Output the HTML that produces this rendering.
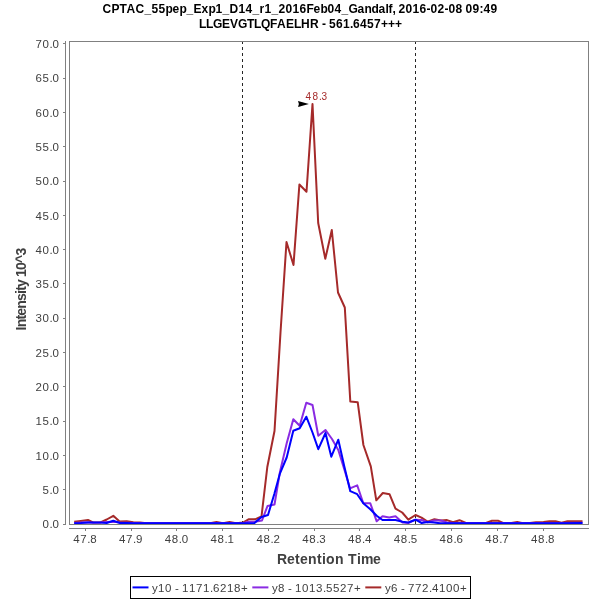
<!DOCTYPE html>
<html><head><meta charset="utf-8"><title>Chromatogram</title>
<style>html,body{margin:0;padding:0;background:#fff;}body{width:600px;height:600px;position:relative;overflow:hidden;font-family:"Liberation Sans",sans-serif;}</style>
</head><body>
<svg width="600" height="600" viewBox="0 0 600 600" style="position:absolute;left:0;top:0;will-change:transform">
<rect x="0" y="0" width="600" height="600" fill="#fff"/>
<g shape-rendering="crispEdges" stroke="#262626" stroke-width="1" stroke-dasharray="3,3">
<line x1="242.5" y1="41" x2="242.5" y2="524"/>
<line x1="415.5" y1="41" x2="415.5" y2="524"/>
</g>
<g fill="none" stroke-width="2" stroke-linejoin="round" stroke-linecap="butt">
<polyline stroke="#a52a2a" points="74.2,521.8 80.8,521.0 88.0,520.0 93.5,522.6 100.0,522.6 106.7,519.5 113.3,515.8 119.6,521.5 126.7,521.2 133.3,522.2 140.0,522.6 146.5,523.2 153.0,523.2 159.5,523.2 166.0,523.2 172.5,523.2 179.0,523.2 185.5,523.2 192.0,523.2 198.5,523.2 205.0,523.2 210.0,523.2 216.5,522.0 223.0,523.2 229.5,522.0 236.0,523.2 243.0,522.6 248.5,519.3 255.0,519.3 261.5,516.5 267.3,467.0 274.5,431.0 280.5,332.5 286.5,242.0 293.5,265.0 299.4,184.5 306.5,191.8 312.5,104.0 318.2,223.0 325.3,258.8 331.8,230.0 338.0,292.5 344.8,307.5 350.3,401.5 357.7,402.2 363.4,445.0 370.8,466.3 376.3,500.3 382.8,493.0 389.6,494.3 395.5,508.7 402.2,512.5 408.3,519.7 415.5,515.0 421.5,517.6 427.5,521.6 434.4,519.3 441.0,520.4 447.0,520.1 453.0,522.3 459.5,520.2 465.9,522.9 472.0,523.2 479.0,523.2 486.0,523.0 492.0,520.7 498.0,520.7 503.0,523.0 510.0,523.2 517.2,522.0 523.0,523.2 530.0,523.0 536.0,522.2 543.5,522.0 549.5,521.2 555.5,521.2 561.5,522.8 567.5,521.3 575.0,521.3 582.5,521.3"/>
<polyline stroke="#8a2be2" points="74.2,523.0 80.8,522.5 88.0,522.3 92.5,522.8 100.0,522.5 106.7,522.0 113.3,521.8 120.0,522.6 126.7,522.8 133.3,523.0 140.0,523.0 160.0,523.0 200.0,523.0 243.0,523.2 248.5,521.8 255.0,521.8 262.0,520.5 267.5,506.0 274.5,504.5 280.0,471.7 286.7,443.3 293.3,419.2 299.7,425.8 306.3,402.8 312.5,405.0 318.3,435.8 325.5,430.0 332.0,439.0 338.3,450.0 344.5,470.0 350.0,488.3 357.2,485.3 363.3,503.3 370.3,503.3 376.7,521.3 382.5,516.3 389.2,517.5 395.5,516.3 402.5,522.5 408.3,523.0 415.5,519.7 421.7,520.0 427.5,522.3 434.0,520.5 441.0,520.5 447.0,522.5 453.0,523.0 480.0,523.0 520.0,523.0 560.0,523.0 582.5,522.8"/>
<polyline stroke="#0000ff" points="74.2,523.2 80.8,523.0 88.0,522.6 92.5,522.6 100.0,522.6 106.7,523.0 113.3,520.8 120.0,523.0 126.7,523.0 133.3,523.2 140.0,523.2 180.0,523.2 220.0,523.2 248.0,523.2 254.5,523.0 261.5,517.0 268.0,515.0 274.3,494.0 280.0,473.3 286.7,457.5 293.3,430.8 299.7,428.3 306.3,416.7 312.5,432.5 318.3,449.2 325.5,433.0 331.3,456.7 338.3,439.7 344.2,466.0 350.3,491.2 357.2,494.2 363.3,503.3 370.3,509.2 376.7,515.8 382.5,520.0 389.2,520.0 395.5,520.0 402.5,521.7 408.3,522.5 415.5,519.7 421.7,523.0 427.5,522.0 434.0,522.5 440.0,523.2 480.0,523.2 520.0,523.2 560.0,523.2 582.5,523.0"/>
</g>
<g shape-rendering="crispEdges" stroke="#808080" stroke-width="1" fill="none">
<rect x="69.5" y="41.5" width="519" height="483"/>
<line x1="65.5" y1="41" x2="65.5" y2="525"/>
<line x1="69" y1="528.5" x2="589" y2="528.5"/>
<line x1="85.5" y1="529" x2="85.5" y2="531"/>
<line x1="131.5" y1="529" x2="131.5" y2="531"/>
<line x1="176.5" y1="529" x2="176.5" y2="531"/>
<line x1="222.5" y1="529" x2="222.5" y2="531"/>
<line x1="268.5" y1="529" x2="268.5" y2="531"/>
<line x1="314.5" y1="529" x2="314.5" y2="531"/>
<line x1="359.5" y1="529" x2="359.5" y2="531"/>
<line x1="405.5" y1="529" x2="405.5" y2="531"/>
<line x1="451.5" y1="529" x2="451.5" y2="531"/>
<line x1="497.5" y1="529" x2="497.5" y2="531"/>
<line x1="543.5" y1="529" x2="543.5" y2="531"/>
<line x1="63" y1="524.5" x2="65" y2="524.5"/>
<line x1="63" y1="489.5" x2="65" y2="489.5"/>
<line x1="63" y1="455.5" x2="65" y2="455.5"/>
<line x1="63" y1="421.5" x2="65" y2="421.5"/>
<line x1="63" y1="386.5" x2="65" y2="386.5"/>
<line x1="63" y1="352.5" x2="65" y2="352.5"/>
<line x1="63" y1="318.5" x2="65" y2="318.5"/>
<line x1="63" y1="283.5" x2="65" y2="283.5"/>
<line x1="63" y1="249.5" x2="65" y2="249.5"/>
<line x1="63" y1="215.5" x2="65" y2="215.5"/>
<line x1="63" y1="181.5" x2="65" y2="181.5"/>
<line x1="63" y1="146.5" x2="65" y2="146.5"/>
<line x1="63" y1="112.5" x2="65" y2="112.5"/>
<line x1="63" y1="78.5" x2="65" y2="78.5"/>
<line x1="63" y1="43.5" x2="65" y2="43.5"/>
</g>
<path d="M308.9,104.1 L298,101.1 L298.9,104.1 L298,107 Z" fill="#000"/>
<g font-family="'Liberation Sans', sans-serif" style="font-kerning:none">
<g fill="#404040">
<text x="73.3 80.3 87.3 90.3" y="543" font-size="11.5">47.8</text>
<text x="119.1 126.1 133.1 136.1" y="543" font-size="11.5">47.9</text>
<text x="164.8 171.8 178.8 181.8" y="543" font-size="11.5">48.0</text>
<text x="210.6 217.6 224.6 227.6" y="543" font-size="11.5">48.1</text>
<text x="256.4 263.4 270.4 273.4" y="543" font-size="11.5">48.2</text>
<text x="302.2 309.2 316.2 319.2" y="543" font-size="11.5">48.3</text>
<text x="347.9 354.9 361.9 364.9" y="543" font-size="11.5">48.4</text>
<text x="393.7 400.7 407.7 410.7" y="543" font-size="11.5">48.5</text>
<text x="439.5 446.5 453.5 456.5" y="543" font-size="11.5">48.6</text>
<text x="485.3 492.3 499.3 502.3" y="543" font-size="11.5">48.7</text>
<text x="531.1 538.1 545.1 548.1" y="543" font-size="11.5">48.8</text>
<text x="42.5 49.5 52.5" y="528" font-size="11.5">0.0</text>
<text x="42.5 49.5 52.5" y="494" font-size="11.5">5.0</text>
<text x="35.5 42.5 49.5 52.5" y="460" font-size="11.5">10.0</text>
<text x="35.5 42.5 49.5 52.5" y="425" font-size="11.5">15.0</text>
<text x="35.5 42.5 49.5 52.5" y="391" font-size="11.5">20.0</text>
<text x="35.5 42.5 49.5 52.5" y="357" font-size="11.5">25.0</text>
<text x="35.5 42.5 49.5 52.5" y="322" font-size="11.5">30.0</text>
<text x="35.5 42.5 49.5 52.5" y="288" font-size="11.5">35.0</text>
<text x="35.5 42.5 49.5 52.5" y="254" font-size="11.5">40.0</text>
<text x="35.5 42.5 49.5 52.5" y="220" font-size="11.5">45.0</text>
<text x="35.5 42.5 49.5 52.5" y="185" font-size="11.5">50.0</text>
<text x="35.5 42.5 49.5 52.5" y="151" font-size="11.5">55.0</text>
<text x="35.5 42.5 49.5 52.5" y="117" font-size="11.5">60.0</text>
<text x="35.5 42.5 49.5 52.5" y="82" font-size="11.5">65.0</text>
<text x="35.5 42.5 49.5 52.5" y="48" font-size="11.5">70.0</text>
</g>
<text x="305.5 312.5 319.0 321.5" y="100" font-size="10" fill="#a52a2a">48.3</text>
<g fill="#000">
<text x="102.6 111.6 119.6 126.6 135.6 144.6 151.6 158.6 165.6 172.6 179.6 186.6 193.6 201.6 208.6 215.6 222.6 229.6 238.6 245.6 252.6 259.6 264.6 271.6 278.6 285.6 292.6 299.6 306.6 313.6 320.6 327.6 334.6 341.6 348.6 357.6 364.6 371.6 378.6 385.6 388.6 392.6 395.6 398.6 405.6 412.6 419.6 426.6 430.6 437.6 444.6 448.6 455.6 462.6 465.6 472.6 479.6 483.6 490.6" y="13" font-size="12" font-weight="bold">CPTAC_55pep_Exp1_D14_r1_2016Feb04_Gandalf, 2016-02-08 09:49</text>
<text x="199.1 206.1 213.1 222.1 230.1 238.1 247.1 254.1 261.1 270.1 277.1 286.1 294.1 301.1 310.1 319.1 322.1 326.1 329.1 336.1 343.1 350.1 353.1 360.1 367.1 374.1 381.1 388.1 395.1" y="28" font-size="12" font-weight="bold">LLGEVGTLQFAELHR - 561.6457+++</text>
</g>
<text x="277.0 287.0 295.0 300.0 308.0 317.0 322.0 326.0 335.0 344.0 348.0 357.0 361.0 373.0" y="564" font-size="14" font-weight="bold" fill="#404040">Retention Time</text>
<text id="yl" transform="translate(26,289.5) rotate(-90)" font-size="14" font-weight="bold" fill="#404040" text-anchor="middle" letter-spacing="-0.8">Intensity 10^3</text>
<rect x="130.5" y="576.5" width="340" height="22" fill="#fff" stroke="#000" stroke-width="1" shape-rendering="crispEdges"/>
<g stroke-width="2" fill="none">
<line x1="132.5" y1="587.4" x2="148.5" y2="587.4" stroke="#0000ff"/>
<line x1="252.3" y1="587.4" x2="268.4" y2="587.4" stroke="#8a2be2"/>
<line x1="365.3" y1="587.4" x2="381.3" y2="587.4" stroke="#a52a2a"/>
</g>
<g fill="#404040">
<text x="152.0 158.0 165.0 172.0 175.0 179.0 182.0 189.0 196.0 203.0 210.0 213.0 220.0 227.0 234.0 241.0" y="592" font-size="11.5">y10 - 1171.6218+</text>
<text x="272.0 278.0 285.0 288.0 292.0 295.0 302.0 309.0 316.0 323.0 326.0 333.0 340.0 347.0 354.0" y="592" font-size="11.5">y8 - 1013.5527+</text>
<text x="385.0 391.0 398.0 401.0 405.0 408.0 415.0 422.0 429.0 432.0 439.0 446.0 453.0 460.0" y="592" font-size="11.5">y6 - 772.4100+</text>
</g>
</g>
</svg>
</body></html>
